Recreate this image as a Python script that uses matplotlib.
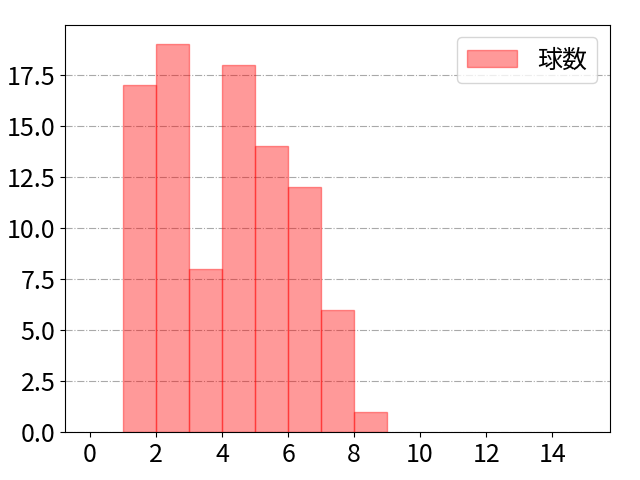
import numpy as np
import matplotlib
matplotlib.use("Agg")
import matplotlib.pyplot as plt

plt.rcParams['font.family'] = ['Noto Sans CJK JP', 'DejaVu Sans']
plt.rcParams['font.size'] = 18

# histogram bins (edges 0..15) and counts
bin_edges = list(range(0, 16))
counts = [0, 17, 19, 8, 18, 14, 12, 6, 1, 0, 0, 0, 0, 0, 0]
label = '球数'

lefts = [b for b, c in zip(bin_edges[:-1], counts) if c > 0]
heights = [c for c in counts if c > 0]

fig, ax = plt.subplots(figsize=(6.4, 4.8), dpi=100)
fig.subplots_adjust(left=0.102, right=0.953, top=0.948, bottom=0.1)
ax.bar(lefts, heights, width=1, align='edge',
       color='red', alpha=0.4, edgecolor='red', linewidth=1, label=label)
ax.set_xlim(-0.75, 15.75)
ax.set_axisbelow(True)
ax.grid(axis='y', linestyle='-.', color='darkgray', linewidth=0.8)
ax.set_xticks(np.arange(0, 15, 2))
ax.set_yticks(np.arange(0, 18, 2.5))
ax.legend(loc='upper right')
fig.savefig('out.png')
